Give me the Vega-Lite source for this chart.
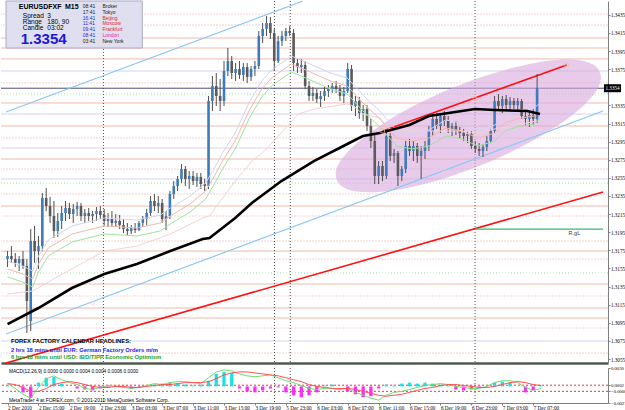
{
"$schema":"https://vega.github.io/schema/vega-lite/v6.json",
"padding":0,
"spacing":1,
"background":"white",
"config":{"view":{"stroke":null},"font":"Liberation Sans"},
"datasets":{
"one":[{}],
"cd":[
{"i":0,"o":1.31654,"h":1.31742,"l":1.31566,"c":1.31687},
{"i":2,"o":1.31687,"h":1.31797,"l":1.31610,"c":1.31654},
{"i":4,"o":1.31654,"h":1.31720,"l":1.31566,"c":1.31610},
{"i":6,"o":1.31610,"h":1.31687,"l":1.31522,"c":1.31654},
{"i":8,"o":1.31654,"h":1.31742,"l":1.31544,"c":1.31577},
{"i":10,"o":1.31577,"h":1.31654,"l":1.30837,"c":1.31190},
{"i":12,"o":1.30970,"h":1.31985,"l":1.30859,"c":1.31853},
{"i":14,"o":1.31853,"h":1.32019,"l":1.31610,"c":1.31742},
{"i":16,"o":1.31742,"h":1.31908,"l":1.31544,"c":1.31797},
{"i":18,"o":1.31797,"h":1.32383,"l":1.31742,"c":1.32328},
{"i":20,"o":1.32328,"h":1.32438,"l":1.32184,"c":1.32239},
{"i":22,"o":1.32239,"h":1.32339,"l":1.32052,"c":1.32129},
{"i":24,"o":1.32129,"h":1.32295,"l":1.31886,"c":1.31963},
{"i":26,"o":1.31963,"h":1.32162,"l":1.31897,"c":1.32074},
{"i":28,"o":1.32074,"h":1.32239,"l":1.31985,"c":1.32162},
{"i":30,"o":1.32162,"h":1.32295,"l":1.32074,"c":1.32217},
{"i":32,"o":1.32217,"h":1.32273,"l":1.32096,"c":1.32151},
{"i":34,"o":1.32151,"h":1.32261,"l":1.32052,"c":1.32206},
{"i":36,"o":1.32206,"h":1.32284,"l":1.32129,"c":1.32239},
{"i":38,"o":1.32239,"h":1.32273,"l":1.32074,"c":1.32129},
{"i":40,"o":1.32129,"h":1.32206,"l":1.32052,"c":1.32162},
{"i":42,"o":1.32162,"h":1.32217,"l":1.32074,"c":1.32129},
{"i":44,"o":1.32129,"h":1.32184,"l":1.32052,"c":1.32151},
{"i":46,"o":1.32151,"h":1.32228,"l":1.32074,"c":1.32184},
{"i":48,"o":1.32184,"h":1.32239,"l":1.32096,"c":1.32140},
{"i":50,"o":1.32140,"h":1.32206,"l":1.32019,"c":1.32074},
{"i":52,"o":1.32074,"h":1.32162,"l":1.32007,"c":1.32096},
{"i":54,"o":1.32096,"h":1.32184,"l":1.32019,"c":1.32052},
{"i":56,"o":1.32052,"h":1.32151,"l":1.32007,"c":1.32074},
{"i":58,"o":1.32074,"h":1.32140,"l":1.31985,"c":1.32030},
{"i":60,"o":1.32030,"h":1.32096,"l":1.31941,"c":1.31985},
{"i":62,"o":1.31985,"h":1.32052,"l":1.31919,"c":1.31963},
{"i":64,"o":1.31963,"h":1.32030,"l":1.31930,"c":1.31996},
{"i":66,"o":1.31996,"h":1.32052,"l":1.31941,"c":1.31974},
{"i":68,"o":1.31974,"h":1.32074,"l":1.31963,"c":1.32052},
{"i":70,"o":1.32052,"h":1.32129,"l":1.32007,"c":1.32096},
{"i":72,"o":1.32096,"h":1.32206,"l":1.32030,"c":1.32162},
{"i":74,"o":1.32162,"h":1.32350,"l":1.32129,"c":1.32295},
{"i":76,"o":1.32295,"h":1.32372,"l":1.32184,"c":1.32239},
{"i":78,"o":1.32239,"h":1.32350,"l":1.32162,"c":1.32273},
{"i":80,"o":1.32273,"h":1.32317,"l":1.32052,"c":1.32096},
{"i":82,"o":1.32096,"h":1.32184,"l":1.31974,"c":1.32129},
{"i":84,"o":1.32129,"h":1.32405,"l":1.32096,"c":1.32372},
{"i":86,"o":1.32372,"h":1.32515,"l":1.32317,"c":1.32460},
{"i":88,"o":1.32460,"h":1.32571,"l":1.32405,"c":1.32538},
{"i":90,"o":1.32538,"h":1.32703,"l":1.32493,"c":1.32648},
{"i":92,"o":1.32648,"h":1.32681,"l":1.32460,"c":1.32538},
{"i":94,"o":1.32538,"h":1.32626,"l":1.32427,"c":1.32571},
{"i":96,"o":1.32571,"h":1.32626,"l":1.32471,"c":1.32515},
{"i":98,"o":1.32515,"h":1.32604,"l":1.32449,"c":1.32560},
{"i":100,"o":1.32560,"h":1.32604,"l":1.32427,"c":1.32482},
{"i":102,"o":1.32482,"h":1.32538,"l":1.32405,"c":1.32460},
{"i":104,"o":1.32460,"h":1.33454,"l":1.32427,"c":1.33399},
{"i":106,"o":1.33399,"h":1.33675,"l":1.33288,"c":1.33564},
{"i":108,"o":1.33564,"h":1.33708,"l":1.33344,"c":1.33454},
{"i":110,"o":1.33454,"h":1.33642,"l":1.33288,"c":1.33399},
{"i":112,"o":1.33399,"h":1.33841,"l":1.33344,"c":1.33730},
{"i":114,"o":1.33730,"h":1.33984,"l":1.33675,"c":1.33841},
{"i":116,"o":1.33841,"h":1.33896,"l":1.33642,"c":1.33708},
{"i":118,"o":1.33708,"h":1.33818,"l":1.33620,"c":1.33752},
{"i":120,"o":1.33752,"h":1.33841,"l":1.33642,"c":1.33686},
{"i":122,"o":1.33686,"h":1.33818,"l":1.33620,"c":1.33774},
{"i":124,"o":1.33774,"h":1.33818,"l":1.33598,"c":1.33664},
{"i":126,"o":1.33664,"h":1.33785,"l":1.33620,"c":1.33752},
{"i":128,"o":1.33752,"h":1.33841,"l":1.33675,"c":1.33785},
{"i":130,"o":1.33785,"h":1.34172,"l":1.33752,"c":1.34117},
{"i":132,"o":1.34117,"h":1.34260,"l":1.34039,"c":1.34194},
{"i":134,"o":1.34194,"h":1.34337,"l":1.34117,"c":1.34260},
{"i":136,"o":1.34260,"h":1.34326,"l":1.34083,"c":1.34150},
{"i":138,"o":1.34150,"h":1.34194,"l":1.33730,"c":1.33841},
{"i":140,"o":1.33841,"h":1.34117,"l":1.33818,"c":1.34061},
{"i":142,"o":1.34061,"h":1.34172,"l":1.34006,"c":1.34117},
{"i":144,"o":1.34117,"h":1.34205,"l":1.34061,"c":1.34172},
{"i":146,"o":1.34172,"h":1.34227,"l":1.34117,"c":1.34150},
{"i":148,"o":1.34150,"h":1.34194,"l":1.33730,"c":1.33818},
{"i":150,"o":1.33818,"h":1.33863,"l":1.33708,"c":1.33774},
{"i":152,"o":1.33774,"h":1.33863,"l":1.33708,"c":1.33796},
{"i":154,"o":1.33796,"h":1.33841,"l":1.33531,"c":1.33564},
{"i":156,"o":1.33564,"h":1.33620,"l":1.33399,"c":1.33454},
{"i":158,"o":1.33454,"h":1.33553,"l":1.33399,"c":1.33487},
{"i":160,"o":1.33487,"h":1.33531,"l":1.33377,"c":1.33421},
{"i":162,"o":1.33421,"h":1.33509,"l":1.33333,"c":1.33454},
{"i":164,"o":1.33454,"h":1.33553,"l":1.33399,"c":1.33509},
{"i":166,"o":1.33509,"h":1.33576,"l":1.33443,"c":1.33531},
{"i":168,"o":1.33531,"h":1.33598,"l":1.33487,"c":1.33564},
{"i":170,"o":1.33564,"h":1.33620,"l":1.33487,"c":1.33531},
{"i":172,"o":1.33531,"h":1.33576,"l":1.33399,"c":1.33454},
{"i":174,"o":1.33454,"h":1.33553,"l":1.33377,"c":1.33509},
{"i":176,"o":1.33509,"h":1.33818,"l":1.33487,"c":1.33752},
{"i":178,"o":1.33752,"h":1.33796,"l":1.33288,"c":1.33344},
{"i":180,"o":1.33344,"h":1.33454,"l":1.33233,"c":1.33399},
{"i":182,"o":1.33399,"h":1.33443,"l":1.33201,"c":1.33266},
{"i":184,"o":1.33266,"h":1.33355,"l":1.33178,"c":1.33310},
{"i":186,"o":1.33310,"h":1.33355,"l":1.33068,"c":1.33123},
{"i":188,"o":1.33123,"h":1.33201,"l":1.32880,"c":1.32957},
{"i":190,"o":1.32957,"h":1.33045,"l":1.32482,"c":1.32571},
{"i":192,"o":1.32571,"h":1.32736,"l":1.32482,"c":1.32681},
{"i":194,"o":1.32681,"h":1.32736,"l":1.32515,"c":1.32571},
{"i":196,"o":1.32571,"h":1.33068,"l":1.32538,"c":1.33012},
{"i":198,"o":1.33012,"h":1.33045,"l":1.32736,"c":1.32792},
{"i":200,"o":1.32792,"h":1.32869,"l":1.32714,"c":1.32825},
{"i":202,"o":1.32825,"h":1.32847,"l":1.32460,"c":1.32571},
{"i":204,"o":1.32571,"h":1.32681,"l":1.32515,"c":1.32648},
{"i":206,"o":1.32648,"h":1.32957,"l":1.32604,"c":1.32902},
{"i":208,"o":1.32902,"h":1.32979,"l":1.32792,"c":1.32847},
{"i":210,"o":1.32847,"h":1.32957,"l":1.32736,"c":1.32902},
{"i":212,"o":1.32902,"h":1.32935,"l":1.32714,"c":1.32792},
{"i":214,"o":1.32792,"h":1.32902,"l":1.32538,"c":1.32847},
{"i":216,"o":1.32847,"h":1.32957,"l":1.32758,"c":1.32902},
{"i":218,"o":1.32902,"h":1.33123,"l":1.32847,"c":1.33068},
{"i":220,"o":1.33068,"h":1.33255,"l":1.33012,"c":1.33201},
{"i":222,"o":1.33201,"h":1.33266,"l":1.33090,"c":1.33123},
{"i":224,"o":1.33123,"h":1.33266,"l":1.33045,"c":1.33233},
{"i":226,"o":1.33233,"h":1.33288,"l":1.33123,"c":1.33178},
{"i":228,"o":1.33178,"h":1.33233,"l":1.33045,"c":1.33090},
{"i":230,"o":1.33090,"h":1.33156,"l":1.33012,"c":1.33123},
{"i":232,"o":1.33123,"h":1.33178,"l":1.33023,"c":1.33068},
{"i":234,"o":1.33068,"h":1.33112,"l":1.32979,"c":1.33045},
{"i":236,"o":1.33045,"h":1.33090,"l":1.32957,"c":1.33012},
{"i":238,"o":1.33012,"h":1.33068,"l":1.32935,"c":1.33034},
{"i":240,"o":1.33034,"h":1.33068,"l":1.32869,"c":1.32902},
{"i":242,"o":1.32902,"h":1.32957,"l":1.32825,"c":1.32869},
{"i":244,"o":1.32869,"h":1.32935,"l":1.32792,"c":1.32847},
{"i":246,"o":1.32847,"h":1.32924,"l":1.32780,"c":1.32891},
{"i":248,"o":1.32891,"h":1.33012,"l":1.32847,"c":1.32957},
{"i":250,"o":1.32957,"h":1.33090,"l":1.32935,"c":1.33068},
{"i":252,"o":1.33068,"h":1.33454,"l":1.33045,"c":1.33399},
{"i":254,"o":1.33399,"h":1.33476,"l":1.33288,"c":1.33344},
{"i":256,"o":1.33344,"h":1.33454,"l":1.33266,"c":1.33421},
{"i":258,"o":1.33421,"h":1.33465,"l":1.33310,"c":1.33355},
{"i":260,"o":1.33355,"h":1.33443,"l":1.33288,"c":1.33399},
{"i":262,"o":1.33399,"h":1.33432,"l":1.33310,"c":1.33355},
{"i":264,"o":1.33355,"h":1.33432,"l":1.33288,"c":1.33399},
{"i":266,"o":1.33399,"h":1.33421,"l":1.33201,"c":1.33233},
{"i":268,"o":1.33233,"h":1.33310,"l":1.33123,"c":1.33201},
{"i":270,"o":1.33201,"h":1.33288,"l":1.33112,"c":1.33244},
{"i":272,"o":1.33244,"h":1.33310,"l":1.33134,"c":1.33201},
{"i":274,"o":1.33201,"h":1.33697,"l":1.33156,"c":1.33540}
],
"ma":[
{"s":"b","i":0,"p":1.30936},{"s":"b","i":16,"p":1.31113},{"s":"b","i":33.3,"p":1.31334},{"s":"b","i":50.1,"p":1.31488},{"s":"b","i":66.9,"p":1.31599},{"s":"b","i":84.2,"p":1.31742},{"s":"b","i":101,"p":1.31875},{"s":"b","i":104.5,"p":1.31886},{"s":"b","i":117.8,"p":1.32107},{"s":"b","i":126.4,"p":1.32273},{"s":"b","i":141.7,"p":1.32515},{"s":"b","i":158.5,"p":1.32736},{"s":"b","i":175.8,"p":1.32924},{"s":"b","i":183.9,"p":1.33012},{"s":"b","i":192.6,"p":1.33045},{"s":"b","i":207.9,"p":1.33134},{"s":"b","i":218,"p":1.33233},{"s":"b","i":241.9,"p":1.33310},{"s":"b","i":252.1,"p":1.33299},{"s":"b","i":268.9,"p":1.33288},{"s":"b","i":275.5,"p":1.33255},
{"s":"y","i":0,"p":1.31268},{"s":"y","i":13,"p":1.31301},{"s":"y","i":24.7,"p":1.31444},{"s":"y","i":50.1,"p":1.31742},{"s":"y","i":66.9,"p":1.31797},{"s":"y","i":84.2,"p":1.31930},{"s":"y","i":101,"p":1.32107},{"s":"y","i":104.5,"p":1.32129},{"s":"y","i":117.8,"p":1.32515},{"s":"y","i":126.4,"p":1.32736},{"s":"y","i":133,"p":1.32847},{"s":"y","i":150.4,"p":1.33255},{"s":"y","i":158.5,"p":1.33310},{"s":"y","i":175.8,"p":1.33366},{"s":"y","i":178.9,"p":1.33344},{"s":"y","i":183.9,"p":1.33255},{"s":"y","i":192.6,"p":1.33211},{"s":"y","i":197.7,"p":1.33090},{"s":"y","i":207.9,"p":1.33068},{"s":"y","i":218,"p":1.33068},{"s":"y","i":234.8,"p":1.33068},{"s":"y","i":243.5,"p":1.33045},{"s":"y","i":252.1,"p":1.33090},{"s":"y","i":260.3,"p":1.33123},{"s":"y","i":268.9,"p":1.33156},{"s":"y","i":274,"p":1.33178},
{"s":"r","i":0,"p":1.31544},{"s":"r","i":7.9,"p":1.31488},{"s":"r","i":13,"p":1.31433},{"s":"r","i":16,"p":1.31599},{"s":"r","i":21.1,"p":1.31776},{"s":"r","i":33.3,"p":1.31930},{"s":"r","i":50.1,"p":1.32019},{"s":"r","i":66.9,"p":1.31996},{"s":"r","i":79.1,"p":1.32052},{"s":"r","i":84.2,"p":1.32129},{"s":"r","i":94.4,"p":1.32261},{"s":"r","i":102.5,"p":1.32405},{"s":"r","i":107.6,"p":1.32593},{"s":"r","i":111.2,"p":1.32736},{"s":"r","i":117.8,"p":1.32957},{"s":"r","i":124.9,"p":1.33288},{"s":"r","i":131.5,"p":1.33531},{"s":"r","i":136.6,"p":1.33653},{"s":"r","i":146.8,"p":1.33807},{"s":"r","i":151.9,"p":1.33763},{"s":"r","i":167.1,"p":1.33620},{"s":"r","i":175.8,"p":1.33564},{"s":"r","i":183.9,"p":1.33377},{"s":"r","i":192.6,"p":1.33201},{"s":"r","i":201.2,"p":1.32990},{"s":"r","i":209.4,"p":1.32957},{"s":"r","i":218,"p":1.32990},{"s":"r","i":226.7,"p":1.33101},{"s":"r","i":234.8,"p":1.33068},{"s":"r","i":243.5,"p":1.32990},{"s":"r","i":252.1,"p":1.33045},{"s":"r","i":257.2,"p":1.33156},{"s":"r","i":265.4,"p":1.33211},{"s":"r","i":272.5,"p":1.33233},{"s":"r","i":275.5,"p":1.33288},
{"s":"u","i":0,"p":1.31632},{"s":"u","i":7.9,"p":1.31576},{"s":"u","i":13,"p":1.31521},{"s":"u","i":16,"p":1.31687},{"s":"u","i":21.1,"p":1.31864},{"s":"u","i":33.3,"p":1.32018},{"s":"u","i":50.1,"p":1.32107},{"s":"u","i":66.9,"p":1.32084},{"s":"u","i":79.1,"p":1.32140},{"s":"u","i":84.2,"p":1.32217},{"s":"u","i":94.4,"p":1.32349},{"s":"u","i":102.5,"p":1.32493},{"s":"u","i":107.6,"p":1.32681},{"s":"u","i":111.2,"p":1.32824},{"s":"u","i":117.8,"p":1.33045},{"s":"u","i":124.9,"p":1.33376},{"s":"u","i":131.5,"p":1.33619},{"s":"u","i":136.6,"p":1.33741},{"s":"u","i":146.8,"p":1.33895},{"s":"u","i":151.9,"p":1.33851},{"s":"u","i":167.1,"p":1.33708},{"s":"u","i":175.8,"p":1.33652},{"s":"u","i":183.9,"p":1.33465},{"s":"u","i":192.6,"p":1.33289},{"s":"u","i":201.2,"p":1.33078},{"s":"u","i":209.4,"p":1.33045},{"s":"u","i":218,"p":1.33078},{"s":"u","i":226.7,"p":1.33189},{"s":"u","i":234.8,"p":1.33156},{"s":"u","i":243.5,"p":1.33078},{"s":"u","i":252.1,"p":1.33133},{"s":"u","i":257.2,"p":1.33244},{"s":"u","i":265.4,"p":1.33299},{"s":"u","i":272.5,"p":1.33321},{"s":"u","i":275.5,"p":1.33376},
{"s":"d","i":0,"p":1.31456},{"s":"d","i":7.9,"p":1.31400},{"s":"d","i":13,"p":1.31345},{"s":"d","i":16,"p":1.31511},{"s":"d","i":21.1,"p":1.31688},{"s":"d","i":33.3,"p":1.31842},{"s":"d","i":50.1,"p":1.31931},{"s":"d","i":66.9,"p":1.31908},{"s":"d","i":79.1,"p":1.31964},{"s":"d","i":84.2,"p":1.32041},{"s":"d","i":94.4,"p":1.32173},{"s":"d","i":102.5,"p":1.32317},{"s":"d","i":107.6,"p":1.32505},{"s":"d","i":111.2,"p":1.32648},{"s":"d","i":117.8,"p":1.32869},{"s":"d","i":124.9,"p":1.33200},{"s":"d","i":131.5,"p":1.33443},{"s":"d","i":136.6,"p":1.33565},{"s":"d","i":146.8,"p":1.33719},{"s":"d","i":151.9,"p":1.33675},{"s":"d","i":167.1,"p":1.33532},{"s":"d","i":175.8,"p":1.33476},{"s":"d","i":183.9,"p":1.33289},{"s":"d","i":192.6,"p":1.33113},{"s":"d","i":201.2,"p":1.32902},{"s":"d","i":209.4,"p":1.32869},{"s":"d","i":218,"p":1.32902},{"s":"d","i":226.7,"p":1.33013},{"s":"d","i":234.8,"p":1.32980},{"s":"d","i":243.5,"p":1.32902},{"s":"d","i":252.1,"p":1.32957},{"s":"d","i":257.2,"p":1.33068},{"s":"d","i":265.4,"p":1.33123},{"s":"d","i":272.5,"p":1.33145},{"s":"d","i":275.5,"p":1.33200}
],
"tl":[
{"s":"chi","i":-0.8,"p":1.33277},{"s":"chi","i":152.9,"p":1.34503},
{"s":"clo","i":-0.8,"p":1.30826},{"s":"clo","i":308.1,"p":1.33288},
{"s":"rlo","i":-0.8,"p":1.30506},{"s":"rlo","i":308.1,"p":1.32394},
{"s":"rtr","i":194.1,"p":1.33068},{"s":"rtr","i":289.3,"p":1.33796}
],
"mk":[
{"s":"blue","i":44,"p":1.31168},{"s":"blue","i":225.7,"p":1.32637},
{"s":"red","i":194.1,"p":1.33068},{"s":"red","i":241.9,"p":1.33421},{"s":"red","i":289.3,"p":1.33796}
],
"hl":[
{"p":1.34359,"k":"pink"},{"p":1.34238,"k":"pink"},{"p":1.34094,"k":"salmon"},{"p":1.33984,"k":"salmon"},{"p":1.33863,"k":"salmon"},{"p":1.33730,"k":"lavender"},{"p":1.33598,"k":"pink"},{"p":1.33476,"k":"green"},{"p":1.33377,"k":"salmon"},{"p":1.33255,"k":"lavender"},{"p":1.33123,"k":"salmon"},{"p":1.32990,"k":"pink"},{"p":1.32880,"k":"lavender"},{"p":1.32758,"k":"salmon"},{"p":1.32648,"k":"pink"},{"p":1.32538,"k":"lavender"},{"p":1.32493,"k":"green"},{"p":1.32372,"k":"pink"},{"p":1.32239,"k":"salmon"},{"p":1.32129,"k":"pink"},{"p":1.31853,"k":"pink"},{"p":1.31742,"k":"salmon"},{"p":1.31654,"k":"pink"},{"p":1.31500,"k":"green"},{"p":1.31378,"k":"salmon"},{"p":1.31246,"k":"pink"},{"p":1.31113,"k":"salmon"},{"p":1.31003,"k":"salmon"},{"p":1.30892,"k":"pink"},{"p":1.30749,"k":"lavender"},{"p":1.30616,"k":"pink"}
],
"vs":[{"i":49.6},{"i":138.1},{"i":146.3},{"i":241.9}],
"el":[{"i":238.4,"p":1.33123}],
"rg":[{"i":241.9,"i2":308.1,"p":1.31985}],
"md":[
{"i":0,"h":0.00014,"m":0.00046,"s":0.00046},
{"i":4,"h":0,"m":-0.00033,"s":0.0003},
{"i":8,"h":-0.00097,"m":-0.00128,"s":-0.00017},
{"i":12,"h":-0.00192,"m":-0.00192,"s":-0.00081},
{"i":16,"h":0.00062,"m":-0.00017,"s":-0.00081},
{"i":20,"h":0.00141,"m":0.00125,"s":-0.00033},
{"i":24,"h":0.00157,"m":0.00173,"s":0.0003},
{"i":28,"h":0.00046,"m":0.00109,"s":0.00062},
{"i":32,"h":0,"m":0.00062,"s":0.00078},
{"i":36,"h":-0.00033,"m":0.0003,"s":0.00062},
{"i":40,"h":-0.00049,"m":-0.00033,"s":0.0003},
{"i":44,"h":-0.00065,"m":-0.00049,"s":0},
{"i":48,"h":-0.00033,"m":-0.00017,"s":-0.00017},
{"i":52,"h":-0.00017,"m":0.00014,"s":-0.00017},
{"i":56,"h":0.00014,"m":0,"s":0},
{"i":60,"h":-0.00017,"m":-0.00017,"s":0},
{"i":64,"h":-0.00033,"m":-0.00033,"s":-0.00017},
{"i":68,"h":-0.00017,"m":-0.00017,"s":-0.00017},
{"i":72,"h":0,"m":0.00014,"s":0},
{"i":76,"h":0.0003,"m":0.00046,"s":0.00014},
{"i":80,"h":0.00046,"m":0.0003,"s":0.0003},
{"i":84,"h":0.00062,"m":0.00062,"s":0.0003},
{"i":88,"h":0.00046,"m":0.00078,"s":0.00046},
{"i":92,"h":0.0003,"m":0.00078,"s":0.00062},
{"i":96,"h":0.00014,"m":0.00062,"s":0.00062},
{"i":100,"h":0.0003,"m":0.00046,"s":0.00062},
{"i":104,"h":0.00093,"m":0.00141,"s":0.00078},
{"i":108,"h":0.00204,"m":0.00236,"s":0.00125},
{"i":112,"h":0.00236,"m":0.00268,"s":0.00188},
{"i":116,"h":0.0022,"m":0.00252,"s":0.0022},
{"i":120,"h":-0.00033,"m":0.00204,"s":0.00236},
{"i":124,"h":-0.00081,"m":0.00173,"s":0.00236},
{"i":128,"h":-0.00097,"m":0.00157,"s":0.0022},
{"i":132,"h":-0.00065,"m":0.00173,"s":0.00204},
{"i":136,"h":-0.00033,"m":0.00188,"s":0.00188},
{"i":140,"h":-0.00017,"m":0.00141,"s":0.00173},
{"i":144,"h":-0.00097,"m":0.00093,"s":0.00141},
{"i":148,"h":-0.00144,"m":0.00062,"s":0.00109},
{"i":152,"h":-0.00176,"m":0.00014,"s":0.00078},
{"i":156,"h":-0.00144,"m":-0.00033,"s":0.0003},
{"i":160,"h":-0.00097,"m":-0.00049,"s":0},
{"i":164,"h":0.00014,"m":-0.00033,"s":-0.00017},
{"i":168,"h":0.0003,"m":-0.00033,"s":-0.00033},
{"i":172,"h":0,"m":-0.00049,"s":-0.00033},
{"i":176,"h":-0.00081,"m":-0.00033,"s":-0.00033},
{"i":180,"h":-0.00128,"m":-0.00097,"s":-0.00049},
{"i":184,"h":-0.00176,"m":-0.00144,"s":-0.00081},
{"i":188,"h":-0.0016,"m":-0.00192,"s":-0.00112},
{"i":192,"h":-0.00033,"m":-0.00223,"s":-0.00144},
{"i":196,"h":0.0003,"m":-0.00144,"s":-0.0016},
{"i":200,"h":0.00014,"m":-0.00097,"s":-0.00144},
{"i":204,"h":0.00046,"m":-0.00081,"s":-0.00128},
{"i":208,"h":0.00062,"m":-0.00049,"s":-0.00097},
{"i":212,"h":0.00046,"m":-0.00017,"s":-0.00065},
{"i":216,"h":0.00062,"m":0.00014,"s":-0.00033},
{"i":220,"h":0.00046,"m":0.0003,"s":-0.00017},
{"i":224,"h":0.0003,"m":0.00046,"s":0.00014},
{"i":228,"h":0.00014,"m":0.0003,"s":0.0003},
{"i":232,"h":-0.00049,"m":0,"s":0.0003},
{"i":236,"h":-0.00065,"m":-0.00017,"s":0.00014},
{"i":240,"h":-0.00049,"m":-0.00033,"s":0},
{"i":244,"h":-0.00017,"m":-0.00033,"s":-0.00017},
{"i":248,"h":0,"m":0,"s":-0.00017},
{"i":252,"h":0.00062,"m":0.00062,"s":0},
{"i":256,"h":0.00078,"m":0.00093,"s":0.0003},
{"i":260,"h":0.00062,"m":0.00093,"s":0.00062},
{"i":264,"h":0,"m":0.00062,"s":0.00078},
{"i":268,"h":-0.00097,"m":-0.00017,"s":0.00062},
{"i":272,"h":-0.00065,"m":-0.00065,"s":0.0003},
{"i":276,"h":0.00014,"m":-0.00033,"s":0.00014}
],
"lv":[{"v":0.0002},{"v":-0.0008}]
},
"vconcat":[
{
"width":607,"height":362,
"resolve":{"axis":{"x":"independent","y":"independent"}},
"layer":[
{"data":{"name":"hl"},"mark":{"type":"rule","strokeWidth":1},
 "encoding":{
  "y":{"field":"p","type":"quantitative","scale":{"domain":[1.30506,1.34503],"nice":false,"zero":false},
   "axis":{"orient":"right","title":null,"grid":false,"values":[1.3055,1.3075,1.3095,1.3115,1.3135,1.3155,1.3175,1.3195,1.3215,1.3235,1.3255,1.3275,1.3295,1.3315,1.3335,1.3375,1.3395,1.3415,1.3435],"format":".4f","labelFont":"Liberation Sans Narrow","labelFontSize":5.1,"labelColor":"#000000","tickSize":2,"tickColor":"#808080","domainColor":"#808080","labelPadding":0.5,"labelFlush":false,"labelOverlap":false}},
  "color":{"field":"k","type":"nominal","scale":{"domain":["pink","salmon","lavender","green"],"range":["#f6d2d2","#f1b9ab","#d3d3f1","#9fe39f"]},"legend":null},
  "strokeDash":{"field":"k","type":"nominal","scale":{"domain":["pink","salmon","lavender","green"],"range":[[2,1],[1,0],[1,0],[1,2]]},"legend":null}
 }},
{"data":{"name":"vs"},"mark":{"type":"rule","color":"#505050","strokeDash":[1,2],"strokeWidth":1},
 "encoding":{"x":{"field":"i","type":"quantitative","scale":{"domain":[-0.8,308.1],"nice":false,"zero":false},"axis":null}}},
{"data":{"name":"one"},"mark":{"type":"rule","color":"#4a4a78","strokeWidth":1},
 "encoding":{"y":{"datum":1.3354,"type":"quantitative","scale":{"domain":[1.30506,1.34503],"nice":false,"zero":false},"axis":null}}},
{"data":{"name":"el"},"mark":{"type":"point","shape":"M -0.925 0.379 A 1 0.2817 -22.3 1 1 0.925 -0.379 A 1 0.2817 -22.3 1 1 -0.925 0.379 Z","size":80656,"filled":true,"fill":"#d9a8dd","opacity":0.6,"strokeWidth":0},
 "encoding":{"x":{"field":"i","type":"quantitative","scale":{"domain":[-0.8,308.1],"nice":false,"zero":false},"axis":null},
  "y":{"field":"p","type":"quantitative","scale":{"domain":[1.30506,1.34503],"nice":false,"zero":false},"axis":null}}},
{"data":{"name":"tl"},"transform":[{"filter":"datum.s=='chi'||datum.s=='clo'"}],"mark":{"type":"line","color":"#87c8f5","strokeWidth":1.2,"clip":true},
 "encoding":{"x":{"field":"i","type":"quantitative","scale":{"domain":[-0.8,308.1],"nice":false,"zero":false},"axis":null},
  "y":{"field":"p","type":"quantitative","scale":{"domain":[1.30506,1.34503],"nice":false,"zero":false},"axis":null},
  "detail":{"field":"s","type":"nominal"}}},
{"data":{"name":"tl"},"transform":[{"filter":"datum.s=='rlo'||datum.s=='rtr'"}],"mark":{"type":"line","color":"#ff1010","strokeWidth":1.6,"clip":true},
 "encoding":{"x":{"field":"i","type":"quantitative","scale":{"domain":[-0.8,308.1],"nice":false,"zero":false},"axis":null},
  "y":{"field":"p","type":"quantitative","scale":{"domain":[1.30506,1.34503],"nice":false,"zero":false},"axis":null},
  "detail":{"field":"s","type":"nominal"}}},
{"data":{"name":"cd"},"mark":{"type":"rule","color":"#4e4e4e","strokeWidth":1},
 "encoding":{"x":{"field":"i","type":"quantitative","scale":{"domain":[-0.8,308.1],"nice":false,"zero":false},
   "axis":{"title":null,"labels":false,"ticks":false,"grid":false,"domainColor":"#4f5a4f","domainWidth":2.5}},
  "y":{"field":"l","type":"quantitative","scale":{"domain":[1.30506,1.34503],"nice":false,"zero":false},"axis":null},
  "y2":{"field":"h"}}},
{"data":{"name":"cd"},"mark":{"type":"bar","width":2.6},
 "encoding":{"x":{"field":"i","type":"quantitative","scale":{"domain":[-0.8,308.1],"nice":false,"zero":false},"axis":null},
  "y":{"field":"o","type":"quantitative","scale":{"domain":[1.30506,1.34503],"nice":false,"zero":false},"axis":null},
  "y2":{"field":"c"},
  "color":{"condition":{"test":"datum.c>datum.o","value":"#3d7bbb"},"value":"#5a5a5a"}}},
{"data":{"name":"ma"},"transform":[{"filter":"datum.s!='b'"}],"mark":{"type":"line","strokeWidth":1},
 "encoding":{"x":{"field":"i","type":"quantitative","scale":{"domain":[-0.8,308.1],"nice":false,"zero":false},"axis":null},
  "y":{"field":"p","type":"quantitative","scale":{"domain":[1.30506,1.34503],"nice":false,"zero":false},"axis":null},
  "color":{"field":"s","type":"nominal","scale":{"domain":["y","r","u","d"],"range":["#b9b400","#ff3a3a","#7cc0f0","#7cc0f0"]},"legend":null}}},
{"data":{"name":"ma"},"transform":[{"filter":"datum.s=='b'"}],"mark":{"type":"line","strokeWidth":2.6,"color":"#000000"},
 "encoding":{"x":{"field":"i","type":"quantitative","scale":{"domain":[-0.8,308.1],"nice":false,"zero":false},"axis":null},
  "y":{"field":"p","type":"quantitative","scale":{"domain":[1.30506,1.34503],"nice":false,"zero":false},"axis":null}}},
{"data":{"name":"mk"},"mark":{"type":"point","filled":false,"size":14,"strokeWidth":1},
 "encoding":{"x":{"field":"i","type":"quantitative","scale":{"domain":[-0.8,308.1],"nice":false,"zero":false},"axis":null},
  "y":{"field":"p","type":"quantitative","scale":{"domain":[1.30506,1.34503],"nice":false,"zero":false},"axis":null},
  "shape":{"field":"s","type":"nominal","scale":{"domain":["blue","red"],"range":["circle","square"]},"legend":null},
  "color":{"field":"s","type":"nominal","scale":{"domain":["blue","red"],"range":["#87c8f5","#ff1010"]},"legend":null}}},
{"data":{"name":"rg"},"mark":{"type":"rule","color":"#3cb868","strokeWidth":1.3},
 "encoding":{"x":{"field":"i","type":"quantitative","scale":{"domain":[-0.8,308.1],"nice":false,"zero":false},"axis":null},
  "x2":{"field":"i2"},
  "y":{"field":"p","type":"quantitative","scale":{"domain":[1.30506,1.34503],"nice":false,"zero":false},"axis":null}}},
{"data":{"name":"one"},"mark":{"type":"text","text":"R.gL","fontSize":5.5,"color":"#333355","align":"left","baseline":"top"},
 "encoding":{"x":{"datum":290.3,"type":"quantitative","scale":{"domain":[-0.8,308.1],"nice":false,"zero":false},"axis":null},
  "y":{"datum":1.31965,"type":"quantitative","scale":{"domain":[1.30506,1.34503],"nice":false,"zero":false},"axis":null}}},
{"data":{"name":"one"},"mark":{"type":"rect","fill":"#dfdff0","stroke":"#a8a8c8","strokeWidth":1},
 "encoding":{"x":{"datum":-0.8,"type":"quantitative","scale":{"domain":[-0.8,308.1],"nice":false,"zero":false},"axis":null},"x2":{"datum":69.7},
  "y":{"datum":1.34503,"type":"quantitative","scale":{"domain":[1.30506,1.34503],"nice":false,"zero":false},"axis":null},"y2":{"datum":1.33984}}},
{"data":{"name":"one"},"mark":{"type":"text","text":"EURUSDFXF","fontSize":7,"fontWeight":"bold","color":"#000000","align":"left","baseline":"middle"},
 "encoding":{"x":{"datum":5.8,"type":"quantitative","scale":{"domain":[-0.8,308.1],"nice":false,"zero":false},"axis":null},
  "y":{"datum":1.34437,"type":"quantitative","scale":{"domain":[1.30506,1.34503],"nice":false,"zero":false},"axis":null}}},
{"data":{"name":"one"},"mark":{"type":"text","text":"M15","fontSize":7,"fontWeight":"bold","color":"#000000","align":"left","baseline":"middle"},
 "encoding":{"x":{"datum":29.7,"type":"quantitative","scale":{"domain":[-0.8,308.1],"nice":false,"zero":false},"axis":null},
  "y":{"datum":1.34437,"type":"quantitative","scale":{"domain":[1.30506,1.34503],"nice":false,"zero":false},"axis":null}}},
{"data":{"name":"one"},"mark":{"type":"text","text":["Spread","Range","Candle"],"fontSize":6.5,"lineHeight":6,"color":"#000000","align":"left","baseline":"top"},
 "encoding":{"x":{"datum":7.9,"type":"quantitative","scale":{"domain":[-0.8,308.1],"nice":false,"zero":false},"axis":null},
  "y":{"datum":1.34370,"type":"quantitative","scale":{"domain":[1.30506,1.34503],"nice":false,"zero":false},"axis":null}}},
{"data":{"name":"one"},"mark":{"type":"text","text":["3","180, 90","03:02"],"fontSize":6.5,"lineHeight":6,"color":"#000000","align":"left","baseline":"top"},
 "encoding":{"x":{"datum":20.6,"type":"quantitative","scale":{"domain":[-0.8,308.1],"nice":false,"zero":false},"axis":null},
  "y":{"datum":1.34370,"type":"quantitative","scale":{"domain":[1.30506,1.34503],"nice":false,"zero":false},"axis":null}}},
{"data":{"name":"one"},"mark":{"type":"text","text":"1.3354","fontSize":15,"fontWeight":"bold","color":"#1a1ad8","align":"left","baseline":"middle"},
 "encoding":{"x":{"datum":6.8,"type":"quantitative","scale":{"domain":[-0.8,308.1],"nice":false,"zero":false},"axis":null},
  "y":{"datum":1.34083,"type":"quantitative","scale":{"domain":[1.30506,1.34503],"nice":false,"zero":false},"axis":null}}},
{"data":{"name":"one"},"mark":{"type":"text","text":["08:41","17:41"],"fontSize":5,"lineHeight":5.8,"color":"#202020","align":"left","baseline":"top"},
 "encoding":{"x":{"datum":38.9,"type":"quantitative","scale":{"domain":[-0.8,308.1],"nice":false,"zero":false},"axis":null},
  "y":{"datum":1.34469,"type":"quantitative","scale":{"domain":[1.30506,1.34503],"nice":false,"zero":false},"axis":null}}},
{"data":{"name":"one"},"mark":{"type":"text","text":["16:41","11:41","09:41","08:41"],"fontSize":5,"lineHeight":5.8,"color":"#2030d0","align":"left","baseline":"top"},
 "encoding":{"x":{"datum":38.9,"type":"quantitative","scale":{"domain":[-0.8,308.1],"nice":false,"zero":false},"axis":null},
  "y":{"datum":1.34341,"type":"quantitative","scale":{"domain":[1.30506,1.34503],"nice":false,"zero":false},"axis":null}}},
{"data":{"name":"one"},"mark":{"type":"text","text":"03:41","fontSize":5,"color":"#202020","align":"left","baseline":"top"},
 "encoding":{"x":{"datum":38.9,"type":"quantitative","scale":{"domain":[-0.8,308.1],"nice":false,"zero":false},"axis":null},
  "y":{"datum":1.34085,"type":"quantitative","scale":{"domain":[1.30506,1.34503],"nice":false,"zero":false},"axis":null}}},
{"data":{"name":"one"},"mark":{"type":"text","text":["Broker","Tokyo"],"fontSize":5,"lineHeight":5.8,"color":"#202020","align":"left","baseline":"top"},
 "encoding":{"x":{"datum":49.1,"type":"quantitative","scale":{"domain":[-0.8,308.1],"nice":false,"zero":false},"axis":null},
  "y":{"datum":1.34469,"type":"quantitative","scale":{"domain":[1.30506,1.34503],"nice":false,"zero":false},"axis":null}}},
{"data":{"name":"one"},"mark":{"type":"text","text":["Beijing","Moscow","Frankfurt"],"fontSize":5,"lineHeight":5.8,"color":"#e02828","align":"left","baseline":"top"},
 "encoding":{"x":{"datum":49.1,"type":"quantitative","scale":{"domain":[-0.8,308.1],"nice":false,"zero":false},"axis":null},
  "y":{"datum":1.34341,"type":"quantitative","scale":{"domain":[1.30506,1.34503],"nice":false,"zero":false},"axis":null}}},
{"data":{"name":"one"},"mark":{"type":"text","text":"London","fontSize":5,"color":"#e0289a","align":"left","baseline":"top"},
 "encoding":{"x":{"datum":49.1,"type":"quantitative","scale":{"domain":[-0.8,308.1],"nice":false,"zero":false},"axis":null},
  "y":{"datum":1.34149,"type":"quantitative","scale":{"domain":[1.30506,1.34503],"nice":false,"zero":false},"axis":null}}},
{"data":{"name":"one"},"mark":{"type":"text","text":"New York","fontSize":5,"color":"#202020","align":"left","baseline":"top"},
 "encoding":{"x":{"datum":49.1,"type":"quantitative","scale":{"domain":[-0.8,308.1],"nice":false,"zero":false},"axis":null},
  "y":{"datum":1.34085,"type":"quantitative","scale":{"domain":[1.30506,1.34503],"nice":false,"zero":false},"axis":null}}},
{"data":{"name":"one"},"mark":{"type":"text","text":"FOREX FACTORY CALENDAR HEADLINES:","fontSize":5.8,"fontWeight":"bold","color":"#000000","align":"left","baseline":"middle"},
 "encoding":{"x":{"datum":1.75,"type":"quantitative","scale":{"domain":[-0.8,308.1],"nice":false,"zero":false},"axis":null},
  "y":{"datum":1.30749,"type":"quantitative","scale":{"domain":[1.30506,1.34503],"nice":false,"zero":false},"axis":null}}},
{"data":{"name":"one"},"mark":{"type":"text","text":"2 hrs 18 mins until EUR: German Factory Orders m/m","fontSize":5.8,"fontWeight":"bold","color":"#2323e0","align":"left","baseline":"middle"},
 "encoding":{"x":{"datum":1.75,"type":"quantitative","scale":{"domain":[-0.8,308.1],"nice":false,"zero":false},"axis":null},
  "y":{"datum":1.30650,"type":"quantitative","scale":{"domain":[1.30506,1.34503],"nice":false,"zero":false},"axis":null}}},
{"data":{"name":"one"},"mark":{"type":"text","text":"6 hrs 18 mins until USD: IBD/TIPP Economic Optimism","fontSize":5.8,"fontWeight":"bold","color":"#22a022","align":"left","baseline":"middle"},
 "encoding":{"x":{"datum":1.75,"type":"quantitative","scale":{"domain":[-0.8,308.1],"nice":false,"zero":false},"axis":null},
  "y":{"datum":1.30572,"type":"quantitative","scale":{"domain":[1.30506,1.34503],"nice":false,"zero":false},"axis":null}}},
{"data":{"name":"one"},"mark":{"type":"rect","fill":"#000000"},
 "encoding":{"x":{"datum":308.6,"type":"quantitative","scale":{"domain":[-0.8,308.1],"nice":false,"zero":false},"axis":null},"x2":{"datum":317.4},
  "y":{"datum":1.33584,"type":"quantitative","scale":{"domain":[1.30506,1.34503],"nice":false,"zero":false},"axis":null},"y2":{"datum":1.33496}}},
{"data":{"name":"one"},"mark":{"type":"text","text":"1.3354","font":"Liberation Sans Narrow","fontSize":5.1,"color":"#ffffff","align":"left","baseline":"middle"},
 "encoding":{"x":{"datum":309.4,"type":"quantitative","scale":{"domain":[-0.8,308.1],"nice":false,"zero":false},"axis":null},
  "y":{"datum":1.3354,"type":"quantitative","scale":{"domain":[1.30506,1.34503],"nice":false,"zero":false},"axis":null}}}
]
},
{
"width":607,"height":35,
"resolve":{"axis":{"x":"independent","y":"independent"}},
"layer":[
{"data":{"name":"lv"},"mark":{"type":"rule","color":"#e03c3c","strokeDash":[2,2],"strokeWidth":1},
 "encoding":{"y":{"field":"v","type":"quantitative","scale":{"domain":[-0.0027,0.003],"nice":false,"zero":false},
   "axis":{"orient":"right","title":null,"grid":false,"values":[0.003,0.0002,-0.0008,-0.0027],"format":".4f","labelFont":"Liberation Sans Narrow","labelFontSize":4.7,"labelColor":"#000000","tickSize":2,"tickColor":"#808080","domainColor":"#808080","labelPadding":0.5,"labelFlush":false,"labelOverlap":false}}}},
{"data":{"name":"vs"},"mark":{"type":"rule","color":"#505050","strokeDash":[1,2],"strokeWidth":1},
 "encoding":{"x":{"field":"i","type":"quantitative","scale":{"domain":[-0.8,308.1],"nice":false,"zero":false},"axis":null}}},
{"data":{"name":"md"},"mark":{"type":"bar","width":3.3},
 "encoding":{"x":{"field":"i","type":"quantitative","scale":{"domain":[-0.8,308.1],"nice":false,"zero":false},
   "axis":{"title":null,"grid":false,"values":[0,16,32,48,64,80,96,112,128,144,160,176,192,208,224,240,256,272],"labelExpr":"['2 Dec 2010','2 Dec 15:00','2 Dec 19:00','2 Dec 23:00','3 Dec 03:00','3 Dec 07:00','3 Dec 11:00','3 Dec 15:00','3 Dec 19:00','5 Dec 23:00','6 Dec 03:00','6 Dec 07:00','6 Dec 11:00','6 Dec 15:00','6 Dec 19:00','6 Dec 23:00','7 Dec 03:00','7 Dec 07:00'][round(datum.value/16)]","labelAlign":"left","labelFont":"Liberation Sans Narrow","labelFontSize":5.2,"labelColor":"#000000","labelPadding":0.5,"tickSize":2,"tickColor":"#808080","domainColor":"#808080","labelFlush":false,"labelOverlap":false}},
  "y":{"field":"h","type":"quantitative","scale":{"domain":[-0.0027,0.003],"nice":false,"zero":false},"axis":null},
  "y2":{"datum":0},
  "color":{"condition":{"test":"datum.h>0","value":"#19e1e6"},"value":"#ff2cf5"}}},
{"data":{"name":"md"},"mark":{"type":"line","color":"#6fdc6f","strokeWidth":1},
 "encoding":{"x":{"field":"i","type":"quantitative","scale":{"domain":[-0.8,308.1],"nice":false,"zero":false},"axis":null},
  "y":{"field":"m","type":"quantitative","scale":{"domain":[-0.0027,0.003],"nice":false,"zero":false},"axis":null}}},
{"data":{"name":"md"},"mark":{"type":"line","color":"#ff5050","strokeWidth":1},
 "encoding":{"x":{"field":"i","type":"quantitative","scale":{"domain":[-0.8,308.1],"nice":false,"zero":false},"axis":null},
  "y":{"field":"s","type":"quantitative","scale":{"domain":[-0.0027,0.003],"nice":false,"zero":false},"axis":null}}},
{"data":{"name":"one"},"mark":{"type":"text","text":"MACD(12,26,9) 0.0000 0.0000 0.0004 0.0004 0.0006 0.0000","fontSize":4.8,"color":"#000000","align":"left","baseline":"middle"},
 "encoding":{"x":{"datum":0.7,"type":"quantitative","scale":{"domain":[-0.8,308.1],"nice":false,"zero":false},"axis":null},
  "y":{"datum":0.00236,"type":"quantitative","scale":{"domain":[-0.0027,0.003],"nice":false,"zero":false},"axis":null}}},
{"data":{"name":"one"},"mark":{"type":"text","text":"MetaTrader 4 at FOREX.com, © 2001-2010 MetaQuotes Software Corp.","fontSize":5,"color":"#000000","align":"left","baseline":"middle"},
 "encoding":{"x":{"datum":0.7,"type":"quantitative","scale":{"domain":[-0.8,308.1],"nice":false,"zero":false},"axis":null},
  "y":{"datum":-0.00215,"type":"quantitative","scale":{"domain":[-0.0027,0.003],"nice":false,"zero":false},"axis":null}}}
]
}
]
}
